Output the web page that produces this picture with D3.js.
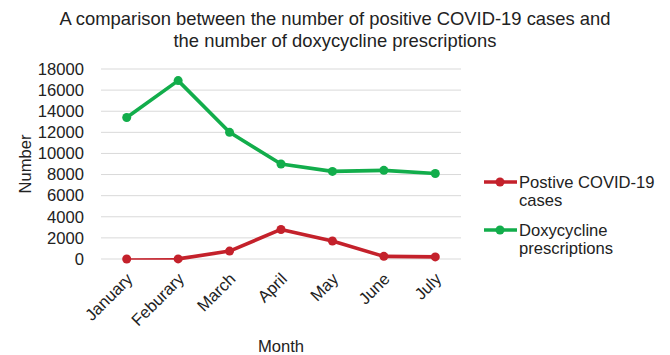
<!DOCTYPE html>
<html>
<head>
<meta charset="utf-8">
<script src="https://cdn.jsdelivr.net/npm/d3@7"></script>
<style>
  html, body { margin: 0; padding: 0; background: #fff; }
  svg { display: block; font-family: "Liberation Sans", Arial, sans-serif; }
</style>
</head>
<body>
<svg id="chart" width="670" height="355"></svg>
<script>
// Monthly figures
const months = ["January", "Feburary", "March", "April", "May", "June", "July"];
const covidCases = [0, 10, 750, 2800, 1700, 250, 200];
const doxyPrescriptions = [13400, 16900, 12000, 9000, 8300, 8400, 8100];
const yTicks = [0, 2000, 4000, 6000, 8000, 10000, 12000, 14000, 16000, 18000];
const seriesNames = [["Postive COVID-19", "cases"], ["Doxycycline", "prescriptions"]];
const seriesColors = ["#c4212b", "#12ad4b"];

const svg = d3.select("#chart");
const plot = { left: 101, right: 461, top: 69, bottom: 259 };
const fs = 16.6;      // label font size
const titleFs = 18.4; // title font size

const x = d3.scaleBand().domain(months).range([plot.left, plot.right]);
const y = d3.scaleLinear().domain([0, 18000]).range([plot.bottom, plot.top]);
const cx = m => x(m) + x.bandwidth() / 2;

// Title
svg.append("text").attr("x", 335).attr("y", 25).attr("text-anchor", "middle")
  .attr("font-size", titleFs).attr("fill", "#222")
  .text("A comparison between the number of positive COVID-19 cases and");
svg.append("text").attr("x", 335).attr("y", 47).attr("text-anchor", "middle")
  .attr("font-size", titleFs).attr("fill", "#222")
  .text("the number of doxycycline prescriptions");

// Gridlines
svg.append("g").selectAll("line").data(yTicks).join("line")
  .attr("x1", plot.left).attr("x2", plot.right)
  .attr("y1", d => y(d)).attr("y2", d => y(d))
  .attr("stroke", "#d9d9d9").attr("stroke-width", 1);

// Y axis labels
const yAxis = svg.append("g").attr("transform", `translate(${plot.left - 17},0)`)
  .call(d3.axisLeft(y).tickValues(yTicks).tickSize(0).tickPadding(0).tickFormat(d3.format("d")));
yAxis.select(".domain").remove();
yAxis.selectAll("text").attr("font-size", fs).attr("fill", "#222")
  .attr("font-family", "Liberation Sans, Arial, sans-serif");

// X axis labels (rotated)
const xAxis = svg.append("g").attr("transform", `translate(0,${plot.bottom})`)
  .call(d3.axisBottom(x).tickSize(0).tickPadding(0));
xAxis.select(".domain").remove();
xAxis.selectAll("text")
  .attr("font-size", fs).attr("fill", "#222")
  .attr("font-family", "Liberation Sans, Arial, sans-serif")
  .attr("text-anchor", "end")
  .attr("dy", null)
  .attr("transform", "translate(7,21) rotate(-45)");

// Axis titles
svg.append("text").attr("transform", "translate(31,164) rotate(-90)")
  .attr("text-anchor", "middle").attr("font-size", fs).attr("fill", "#222").text("Number");
svg.append("text").attr("x", 281).attr("y", 352).attr("text-anchor", "middle")
  .attr("font-size", fs).attr("fill", "#222").text("Month");

// Series lines and markers
const seriesData = [covidCases, doxyPrescriptions];
seriesData.forEach((vals, si) => {
  const pts = months.map((m, i) => [cx(m), y(vals[i])]);
  const g = svg.append("g");
  // each segment drawn separately; the first COVID segment is a thin stroke
  d3.pairs(pts).forEach(([a, b], k) => {
    g.append("path")
      .attr("d", d3.line()([a, b]))
      .attr("stroke", seriesColors[si])
      .attr("stroke-width", si === 0 && k === 0 ? 1.6 : 3.6)
      .attr("stroke-linecap", "round")
      .attr("fill", "none");
  });
  g.selectAll("circle").data(pts).join("circle")
    .attr("cx", d => d[0]).attr("cy", d => d[1]).attr("r", 4.5)
    .attr("fill", seriesColors[si]);
});

// Legend
const legendY = [182, 230];
seriesNames.forEach((lines, i) => {
  const ly = legendY[i];
  svg.append("line").attr("x1", 484).attr("x2", 517).attr("y1", ly).attr("y2", ly)
    .attr("stroke", seriesColors[i]).attr("stroke-width", 3.6);
  svg.append("circle").attr("cx", 500).attr("cy", ly).attr("r", 4.5).attr("fill", seriesColors[i]);
  lines.forEach((t, j) => {
    svg.append("text").attr("x", 519).attr("y", ly + 6 + j * 18)
      .attr("font-size", fs).attr("fill", "#222").text(t);
  });
});
</script>
</body>
</html>
